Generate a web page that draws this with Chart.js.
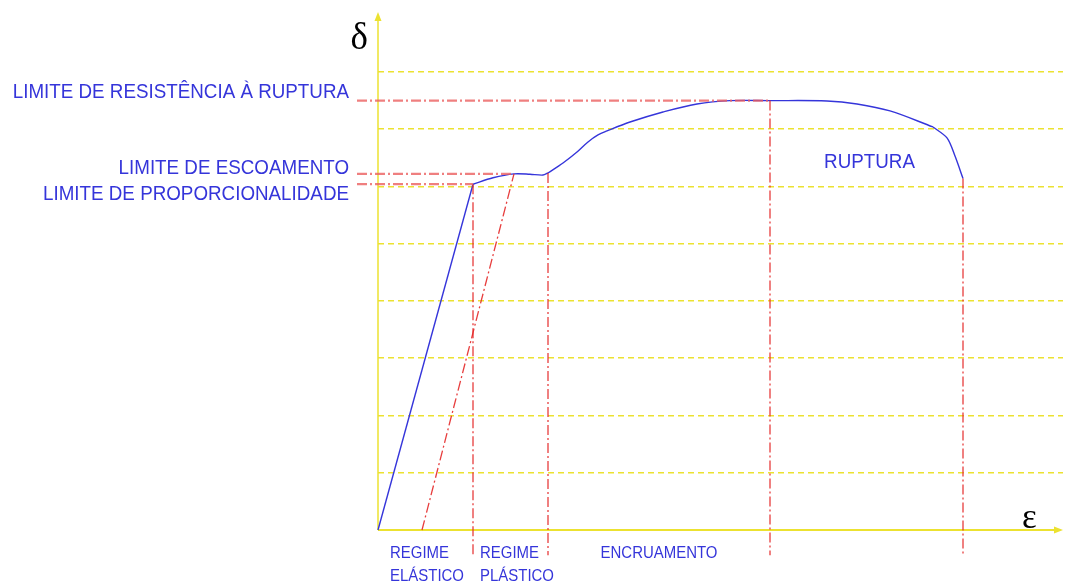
<!DOCTYPE html>
<html>
<head>
<meta charset="utf-8">
<script src="https://cdn.jsdelivr.net/npm/chart.js@4/dist/chart.umd.min.js"></script>
<style>
  html, body { margin: 0; padding: 0; background: #fff; }
  #wrap { width: 1065px; height: 583px; position: relative; }
</style>
</head>
<body>
<div id="wrap"><canvas id="c"></canvas></div>
<script>
// Stress–strain curve of a ductile steel (strain ε on x, stress δ on y), split by regime
const elasticStrain = [0, 9.5];
const elasticStress = [0, 302];
const yieldStrain = [9.5, 11.5, 13.6, 15.2, 16.5, 17.0];
const yieldStress = [302, 307.6, 311, 310.7, 310, 311.8];
const hardeningStrain = [17.0, 18.5, 19.9, 21.0, 22.0, 22.9, 25.2, 28.5, 31.9, 35.2, 39.2, 44.9, 47.9, 51.2, 55.5];
const hardeningStress = [311.8, 320.5, 330.1, 338.9, 345.0, 348.5, 356.3, 365.1, 372.1, 375, 375, 374.7, 372.1, 366, 352];
const neckingStrain = [55.5, 56.9, 57.7, 58.5];
const neckingStress = [352, 342.4, 326.6, 307];

// Characteristic points
const limitStress = { ruptura: 375, escoamento: 311, proporcionalidade: 302, fratura: 307, fimPlastico: 311.8 };
const limitStrain = { proporcionalidade: 9.5, escoamento: 13.6, fimPlastico: 17.0, ruptura: 39.2, fratura: 58.5, residual: 4.4 };
const leaderStart = -2.1;   // leaders start a little left of the stress axis
const leaderEnd = -22;      // and run a little below the strain axis

const limitLabels = ['LIMITE DE RESISTÊNCIA À RUPTURA', 'LIMITE DE ESCOAMENTO', 'LIMITE DE PROPORCIONALIDADE'];
const regimeLabels = [['REGIME', 'ELÁSTICO'], ['REGIME', 'PLÁSTICO'], ['ENCRUAMENTO'], ['RUPTURA']];

const gridValues = [50, 100, 150, 200, 250, 300, 350, 400];

const BLUE = '#3535da';
const RED = 'rgba(228,40,40,0.9)';
const PINK = 'rgba(235,95,95,0.8)';
const YELLOW = 'rgb(236,226,48)';
const DASHDOT = [10, 3, 2, 3];

const pts = (xs, ys) => xs.map((x, i) => ({ x, y: ys[i] }));
const seg = (x1, y1, x2, y2) => [{ x: x1, y: y1 }, { x: x2, y: y2 }];

const refLine = (data, color, width) => ({
  data, borderColor: color, borderWidth: width, borderDash: DASHDOT,
  pointRadius: 0, fill: false, tension: 0, clip: false
});
const curvePart = (data, tension) => ({
  data, borderColor: BLUE, borderWidth: 1.4, pointRadius: 0, fill: false, tension, clip: false
});

const datasets = [
  refLine(seg(leaderStart, limitStress.ruptura, limitStrain.ruptura, limitStress.ruptura), PINK, 2.2),
  refLine(seg(leaderStart, limitStress.escoamento, limitStrain.escoamento, limitStress.escoamento), PINK, 2.2),
  refLine(seg(leaderStart, limitStress.proporcionalidade, limitStrain.proporcionalidade, limitStress.proporcionalidade), PINK, 2.2),
  refLine(seg(limitStrain.proporcionalidade, limitStress.proporcionalidade, limitStrain.proporcionalidade, leaderEnd), RED, 1.3),
  refLine(seg(limitStrain.fimPlastico, limitStress.fimPlastico, limitStrain.fimPlastico, leaderEnd), RED, 1.3),
  refLine(seg(limitStrain.ruptura, limitStress.ruptura, limitStrain.ruptura, leaderEnd), RED, 1.3),
  refLine(seg(limitStrain.fratura, limitStress.fratura, limitStrain.fratura, leaderEnd), RED, 1.3),
  refLine(seg(limitStrain.residual, 0, limitStrain.escoamento, limitStress.escoamento), RED, 1.3),
  curvePart(pts(elasticStrain, elasticStress), 0),
  curvePart(pts(yieldStrain, yieldStress), 0.3),
  curvePart(pts(hardeningStrain, hardeningStress), 0.35),
  curvePart(pts(neckingStrain, neckingStress), 0.3)
];

// Axes with arrow heads
const axesPlugin = {
  id: 'axes',
  beforeDatasetsDraw(chart) {
    const { ctx, chartArea: a, scales: { x, y } } = chart;
    const x0 = x.getPixelForValue(0), y0 = y.getPixelForValue(0);
    ctx.save();
    ctx.strokeStyle = YELLOW; ctx.fillStyle = YELLOW;
    ctx.lineWidth = 1.5;
    ctx.beginPath(); ctx.moveTo(x0, y0); ctx.lineTo(x0, a.top + 6); ctx.stroke();
    ctx.lineWidth = 2;
    ctx.beginPath(); ctx.moveTo(x0, y0); ctx.lineTo(a.right - 6, y0); ctx.stroke();
    ctx.beginPath(); ctx.moveTo(x0, a.top); ctx.lineTo(x0 - 3.5, a.top + 9); ctx.lineTo(x0 + 3.5, a.top + 9); ctx.closePath(); ctx.fill();
    ctx.beginPath(); ctx.moveTo(a.right, y0); ctx.lineTo(a.right - 9, y0 - 3.5); ctx.lineTo(a.right - 9, y0 + 3.5); ctx.closePath(); ctx.fill();
    ctx.restore();
  }
};

// Narrow-set text helper
function narrowText(ctx, text, x, y, align, sx) {
  ctx.save();
  ctx.translate(x, y);
  ctx.scale(sx, 1);
  ctx.textAlign = align;
  ctx.fillText(text, 0, 0);
  ctx.restore();
}

// Text annotations
const labelsPlugin = {
  id: 'labels',
  afterDraw(chart) {
    const { ctx, scales: { x, y } } = chart;
    const px = v => x.getPixelForValue(v);
    const py = v => y.getPixelForValue(v);
    const SX = 0.895;
    ctx.save();
    ctx.fillStyle = BLUE;
    ctx.textBaseline = 'alphabetic';
    ctx.font = '21px "Liberation Sans", Arial, sans-serif';
    const rx = px(leaderStart) - 8;
    narrowText(ctx, limitLabels[0], rx, py(limitStress.ruptura) - 2.5, 'right', SX);
    narrowText(ctx, limitLabels[1], rx, py(limitStress.escoamento) - 0.3, 'right', SX);
    narrowText(ctx, limitLabels[2], rx, py(limitStress.proporcionalidade) + 16, 'right', SX);
    narrowText(ctx, regimeLabels[3][0], (px(limitStrain.ruptura) + px(limitStrain.fratura)) / 2 + 3, py(limitStress.fratura) - 10.5, 'center', SX);

    ctx.font = '17px "Liberation Sans", Arial, sans-serif';
    const b1 = py(0) + 28, b2 = py(0) + 51;
    narrowText(ctx, regimeLabels[0][0], px(0) + 12, b1, 'left', 0.88);
    narrowText(ctx, regimeLabels[0][1], px(0) + 12, b2, 'left', 0.88);
    narrowText(ctx, regimeLabels[1][0], px(limitStrain.proporcionalidade) + 7, b1, 'left', 0.88);
    narrowText(ctx, regimeLabels[1][1], px(limitStrain.proporcionalidade) + 7, b2, 'left', 0.88);
    narrowText(ctx, regimeLabels[2][0], (px(limitStrain.fimPlastico) + px(limitStrain.ruptura)) / 2, b1, 'center', 0.88);

    // axis symbols
    ctx.fillStyle = '#000';
    ctx.font = '37px "Liberation Serif", "Times New Roman", serif';
    ctx.textAlign = 'right';
    ctx.fillText('δ', px(0) - 10, 49);
    ctx.font = '35px "Liberation Serif", "Times New Roman", serif';
    ctx.textAlign = 'left';
    ctx.fillText('ε', chart.chartArea.right - 41, py(0) - 2);
    ctx.restore();
  }
};

new Chart(document.getElementById('c'), {
  type: 'line',
  data: { datasets },
  options: {
    responsive: true,
    maintainAspectRatio: false,
    animation: false,
    events: [],
    layout: { padding: { left: 378, top: 12, right: 2, bottom: 53 } },
    plugins: { legend: { display: false }, tooltip: { enabled: false } },
    scales: {
      x: {
        type: 'linear', min: 0, max: 68.5,
        ticks: { display: false },
        grid: { display: false },
        border: { display: false },
        afterFit: s => { s.height = 0; }
      },
      y: {
        type: 'linear', min: 0, max: 452.4,
        ticks: { display: false },
        afterBuildTicks: s => { s.ticks = gridValues.map(v => ({ value: v })); },
        grid: { drawTicks: false, lineWidth: 1.5, color: YELLOW },
        border: { display: false, dash: [6, 4] },
        afterFit: s => { s.width = 0; }
      }
    }
  },
  plugins: [axesPlugin, labelsPlugin]
});
</script>
</body>
</html>
